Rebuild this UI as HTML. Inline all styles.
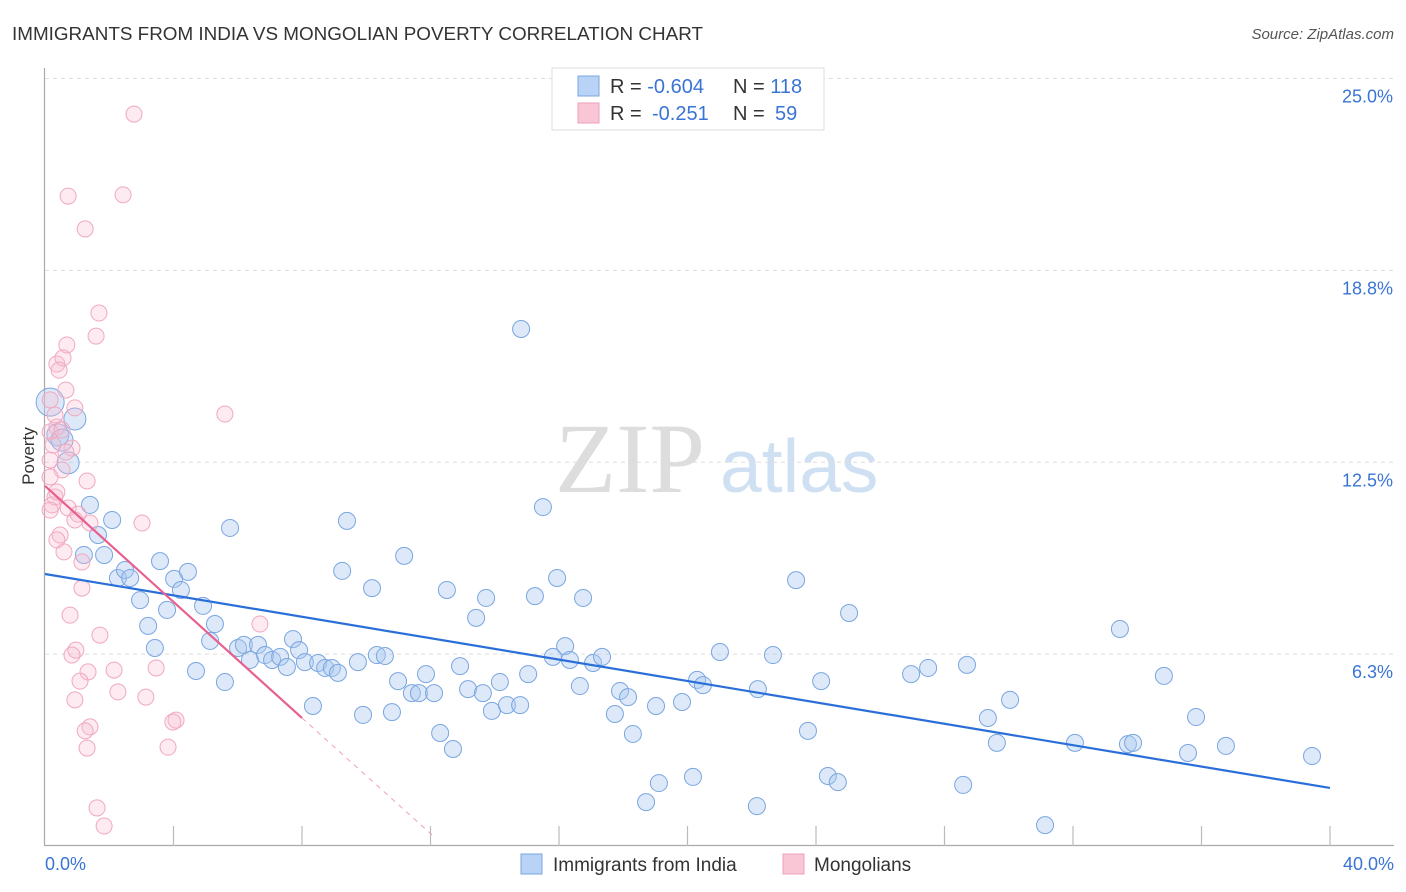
<!DOCTYPE html>
<html><head><meta charset="utf-8"><style>
body{margin:0;background:#fff;width:1406px;height:892px;overflow:hidden;font-family:"Liberation Sans",sans-serif}
svg{position:absolute;left:0;top:0}
</style></head><body>
<svg id="chart" width="1406" height="892" xmlns="http://www.w3.org/2000/svg">
<text x="12" y="40" font-size="18" fill="#333" textLength="691" lengthAdjust="spacingAndGlyphs">IMMIGRANTS FROM INDIA VS MONGOLIAN POVERTY CORRELATION CHART</text>
<text x="1394" y="39" font-size="15" fill="#555" font-style="italic" text-anchor="end">Source: ZipAtlas.com</text>
<g><text x="555" y="492" font-size="100" fill="#ddd" font-family="Liberation Serif,serif">ZIP</text><text x="720" y="492" font-size="75" fill="#cfe0f3">atlas</text></g>
<g id="grid"></g>
<g id="axes"></g>
<g id="pts"></g>
<g id="trend"></g>
<text transform="translate(34,456) rotate(-90)" font-size="17" fill="#333" text-anchor="middle">Poverty</text>
<g>
<rect x="552" y="68" width="272" height="62" fill="#fff" stroke="#ddd"/>
<rect x="578" y="76" width="21" height="20" fill="#b8d3f5" stroke="#7aa6e0"/>
<rect x="578" y="103" width="21" height="20" fill="#f9c6d5" stroke="#f0a0bb"/>
<text x="610" y="93" font-size="20" fill="#333">R = <tspan fill="#3a74d4">-0.604</tspan><tspan x="733">N = </tspan><tspan fill="#3a74d4">118</tspan></text>
<text x="610" y="120" font-size="20" fill="#333">R = <tspan fill="#3a74d4" x="652">-0.251</tspan><tspan x="733">N = </tspan><tspan fill="#3a74d4" x="775">59</tspan></text>
</g>
<g>
<rect x="521" y="854" width="21" height="20" fill="#b8d3f5" stroke="#7aa6e0"/>
<text x="553" y="871" font-size="19" fill="#333">Immigrants from India</text>
<rect x="783" y="854" width="21" height="20" fill="#f9c6d5" stroke="#f0a0bb"/>
<text x="814" y="871" font-size="19" fill="#333">Mongolians</text>
</g>
</svg>
<script>
const yTicks=[25,18.75,12.5,6.25];
const yTickLabels=["25.0%","18.8%","12.5%","6.3%"];
const xTicks=[0,4,8,12,16,20,24,28,32,36,40];
const blueX=[.16,.40,.53,.93,.72,1.40,1.21,1.65,1.84,2.09,2.27,2.49,2.65,2.96,3.21,3.42,3.58,3.80,4.02,4.23,4.45,4.70,4.92,5.14,5.29,5.60,5.76,6.01,6.19,6.38,6.63,6.85,7.07,7.32,7.53,7.72,7.91,8.09,8.34,8.50,8.72,8.93,9.12,9.25,9.40,9.74,9.90,10.18,10.33,10.58,10.80,10.99,11.18,11.42,11.64,11.86,12.11,12.30,12.51,12.70,12.92,13.17,13.42,13.63,13.73,13.91,14.16,14.38,14.79,14.82,15.04,15.25,15.50,15.81,15.94,16.19,16.34,16.65,16.75,17.06,17.34,17.74,17.90,18.15,18.30,18.71,19.02,19.11,19.83,20.17,20.30,20.48,21.01,22.16,22.19,22.66,23.38,23.75,24.16,24.37,24.68,25.03,26.96,27.49,28.58,28.70,29.35,29.63,30.04,31.13,32.06,33.46,33.71,33.87,34.83,35.58,35.83,36.76,39.44];
const blueY=[14.46,13.39,13.22,13.91,12.48,11.11,9.48,10.13,9.48,10.62,8.73,8.99,8.73,8.01,7.17,6.45,9.28,7.69,8.70,8.34,8.93,5.70,7.82,6.68,7.23,5.34,10.36,6.45,6.55,6.06,6.55,6.22,6.06,6.16,5.83,6.74,6.38,5.99,4.56,5.96,5.80,5.80,5.64,8.96,10.59,5.99,4.27,8.40,6.22,6.19,4.36,5.37,9.45,4.98,4.98,5.60,4.98,3.68,8.34,3.16,5.86,5.11,7.43,4.98,8.08,4.40,5.34,4.59,4.59,16.84,5.60,8.14,11.04,6.16,8.73,6.51,6.06,5.21,8.08,5.96,6.16,4.30,5.05,4.85,3.65,1.43,4.56,2.05,4.69,2.25,5.41,5.24,6.32,1.30,5.11,6.22,8.66,3.75,5.37,2.28,2.08,7.59,5.60,5.80,1.99,5.90,4.17,3.36,4.76,0.68,3.36,7.07,3.32,3.36,5.54,3.03,4.20,3.26,2.93];
const pinkX=[2.77,.72,2.43,1.25,1.68,1.59,.68,.37,.56,.44,.65,.16,.93,5.60,.37,.16,.84,.25,.53,1.31,.16,.31,.22,.16,.72,1.03,.93,1.40,3.02,.47,.37,.59,1.15,1.15,.78,1.71,6.69,.96,.84,1.34,2.15,3.46,1.09,2.27,3.14,.93,4.08,3.98,1.40,1.25,3.83,1.31,1.62,1.84,.37,.16,.31,.53,.65];
const pinkY=[23.84,21.17,21.21,20.10,17.36,16.61,16.32,15.70,15.90,15.50,14.85,14.53,14.27,14.07,13.65,13.49,12.96,13.06,12.25,11.89,12.02,11.37,11.11,10.94,11.01,10.81,10.62,10.52,10.52,10.13,9.97,9.58,9.25,8.40,7.52,6.87,7.23,6.38,6.22,5.67,5.73,5.80,5.37,5.02,4.85,4.76,4.10,4.04,3.88,3.75,3.22,3.19,1.24,0.65,11.53,12.57,14.04,13.55,12.83];
const blueTrend=[[0,8.86],[40,1.89]];
const pinkTrend=[[0,11.73],[8,4.17]];
const pinkDash=[[8,4.17],[12.05,0.36]];
const X=v=>45+v*32.125, Y=v=>846-v*30.7;
const NS="http://www.w3.org/2000/svg";
function mk(p,t,a){const e=document.createElementNS(NS,t);for(const k in a)e.setAttribute(k,a[k]);p.appendChild(e);return e;}
const grid=document.getElementById('grid'),axes=document.getElementById('axes'),pts=document.getElementById('pts'),tr=document.getElementById('trend');
yTicks.forEach((t,i)=>{const l=mk(grid,'line',{x1:45,x2:1394,y1:Y(t),y2:Y(t),stroke:'#ddd','stroke-dasharray':'4,4'});


const tx=mk(axes,'text',{x:1393,y:Y(t)+24,'font-size':18,fill:'#3a74d4','text-anchor':'end'});tx.textContent=yTickLabels[i];

});
mk(axes,'line',{x1:44.5,x2:44.5,y1:68,y2:846,stroke:'#aaa','stroke-width':1.2});
mk(axes,'line',{x1:44,x2:1394,y1:845.5,y2:845.5,stroke:'#aaa','stroke-width':1.2});
xTicks.forEach(t=>{if(t>0){const l=mk(axes,'line',{x1:X(t),x2:X(t),y1:826,y2:846,stroke:'#bbb','stroke-width':1.2});

}});
const x0=mk(axes,'text',{x:45,y:870,'font-size':18,fill:'#3a74d4'});x0.textContent='0.0%';


const x1=mk(axes,'text',{x:1394,y:870,'font-size':18,fill:'#3a74d4','text-anchor':'end'});x1.textContent='40.0%';


blueX.forEach((v,i)=>{const r=i==0?14:(i<5?11:8.5);const c=mk(pts,'circle',{cx:X(v),cy:Y(blueY[i]),r:r,fill:'rgba(170,200,240,0.4)',stroke:'#7aa6e0','stroke-width':1});

});
pinkX.forEach((v,i)=>{const c=mk(pts,'circle',{cx:X(v),cy:Y(pinkY[i]),r:8,fill:'rgba(247,190,208,0.3)',stroke:'#f0a8c0','stroke-width':1});

});
const bl=mk(tr,'line',{x1:X(blueTrend[0][0]),y1:Y(blueTrend[0][1]),x2:X(blueTrend[1][0]),y2:Y(blueTrend[1][1]),stroke:'#2a6fd8','stroke-width':2.2});


const pl=mk(tr,'line',{x1:X(pinkTrend[0][0]),y1:Y(pinkTrend[0][1]),x2:X(pinkTrend[1][0]),y2:Y(pinkTrend[1][1]),stroke:'#e8608e','stroke-width':2.2});


const pd=mk(tr,'line',{x1:X(pinkDash[0][0]),y1:Y(pinkDash[0][1]),x2:X(pinkDash[1][0]),y2:Y(pinkDash[1][1]),stroke:'#f0a0bb','stroke-width':1,'stroke-dasharray':'5,5'});


</script>
</body></html>
